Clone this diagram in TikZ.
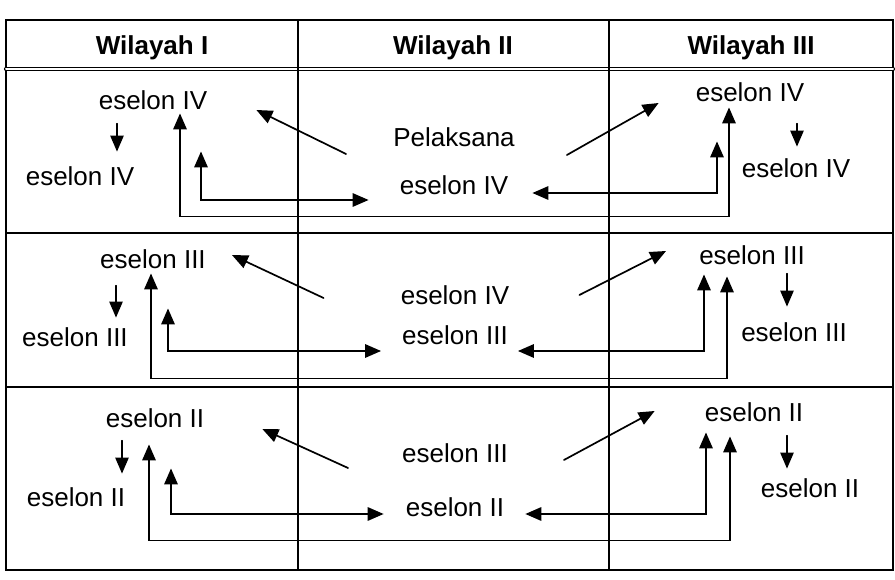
\documentclass[tikz,border=0pt]{standalone}
\usepackage{fontspec}
\setmainfont{Liberation Sans}
\usetikzlibrary{arrows.meta}

\begin{document}
\begin{tikzpicture}[x=1pt,y=-1pt,line cap=round,>={Triangle[length=16pt,width=13.5pt]},
    lbl/.style={inner sep=0pt,text height=18.5pt,text depth=0pt,font=\fontsize{26}{30}\selectfont},
    head/.style={lbl,font=\fontsize{26}{30}\selectfont\bfseries},
    grid/.style={line width=1.1pt},
    loop/.style={<->,line width=1.6pt},
    drop/.style={->,line width=1.1pt},
    slant/.style={->,line width=1.7pt}]
        \useasboundingbox (0,0) rectangle (895,580);

        % draw the table
        \draw[grid] (6,20) rectangle (893,570);
        \draw[grid,double,double distance=2pt] (6,69) -- (893,69);
        \draw[grid] (6,233) -- (893,233);
        \draw[grid] (6,387) -- (893,387);
        \draw[grid] (298,20) -- (298,570);
        \draw[grid] (609,20) -- (609,570);

        % the headers
        \foreach \x/\name in {152/I,453/II,751/III}
                \node[head] (h\name) at (\x,45) {Wilayah \name};

        % first row
        \node[lbl] (a1) at (153,100) {eselon IV};
        \node[lbl] (b1) at (80,176) {eselon IV};
        \node[lbl] (c1) at (454,137) {Pelaksana};
        \node[lbl] (d1) at (454,185) {eselon IV};
        \node[lbl] (e1) at (750,92) {eselon IV};
        \node[lbl] (f1) at (796,168) {eselon IV};

        \draw[drop] ([shift={(-36,14)}]a1.south) -- ([shift={(37,-15)}]b1.north);
        \draw[drop] ([shift={(47,22)}]e1.south) -- ([shift={(1,-12)}]f1.north);
        \draw[slant] ([shift={(-47,17)}]c1.west) -- ([shift={(49,10)}]a1.east);
        \draw[slant] ([shift={(52,18)}]c1.east) -- ([shift={(-37,11)}]e1.west);
        \draw[loop] ([shift={(27,4)}]a1.south) -- ++(0,103) -| ([shift={(-21,6)}]e1.south);
        \draw[loop] ([shift={(48,42)}]a1.south) |- ([shift={(-31,15)}]d1.west);
        \draw[loop] ([shift={(24,8)}]d1.east) -| ([shift={(-33,40)}]e1.south);

        % second row
        \node[lbl] (a2) at (153,259) {eselon III};
        \node[lbl] (b2) at (75,337) {eselon III};
        \node[lbl] (c2) at (455,295) {eselon IV};
        \node[lbl] (d2) at (455,335) {eselon III};
        \node[lbl] (e2) at (752,255) {eselon III};
        \node[lbl] (f2) at (794,332) {eselon III};

        \draw[drop] ([shift={(-37,17)}]a2.south) -- ([shift={(41,-10)}]b2.north);
        \draw[drop] ([shift={(35,9)}]e2.south) -- ([shift={(-7,-16)}]f2.north);
        \draw[slant] ([shift={(-77,3)}]c2.west) -- ([shift={(26,-4)}]a2.east);
        \draw[slant] ([shift={(70,0)}]c2.east) -- ([shift={(-33,-4)}]e2.west);
        \draw[loop] ([shift={(-2,5)}]a2.south) -- ++(0,105) -| ([shift={(-25,12)}]e2.south);
        \draw[loop] ([shift={(15,40)}]a2.south) |- ([shift={(-21,16)}]d2.west);
        \draw[loop] ([shift={(10,16)}]d2.east) -| ([shift={(-48,10)}]e2.south);

        % third row
        \node[lbl] (a3) at (155,418) {eselon II};
        \node[lbl] (b3) at (76,497) {eselon II};
        \node[lbl] (c3) at (455,453) {eselon III};
        \node[lbl] (d3) at (455,507) {eselon II};
        \node[lbl] (e3) at (754,412) {eselon II};
        \node[lbl] (f3) at (810,488) {eselon II};

        \draw[drop] ([shift={(-33,13)}]a3.south) -- ([shift={(46,-14)}]b3.north);
        \draw[drop] ([shift={(33,14)}]e3.south) -- ([shift={(-23,-10)}]f3.north);
        \draw[slant] ([shift={(-54,15)}]c3.west) -- ([shift={(58,11)}]a3.east);
        \draw[slant] ([shift={(56,7)}]c3.east) -- ([shift={(-50,-1)}]e3.west);
        \draw[loop] ([shift={(-6,17)}]a3.south) -- ++(0,96) -| ([shift={(-24,15)}]e3.south);
        \draw[loop] ([shift={(16,41)}]a3.south) |- ([shift={(-22,7)}]d3.west);
        \draw[loop] ([shift={(21,7)}]d3.east) -| ([shift={(-48,11)}]e3.south);

\end{tikzpicture}
\end{document}
